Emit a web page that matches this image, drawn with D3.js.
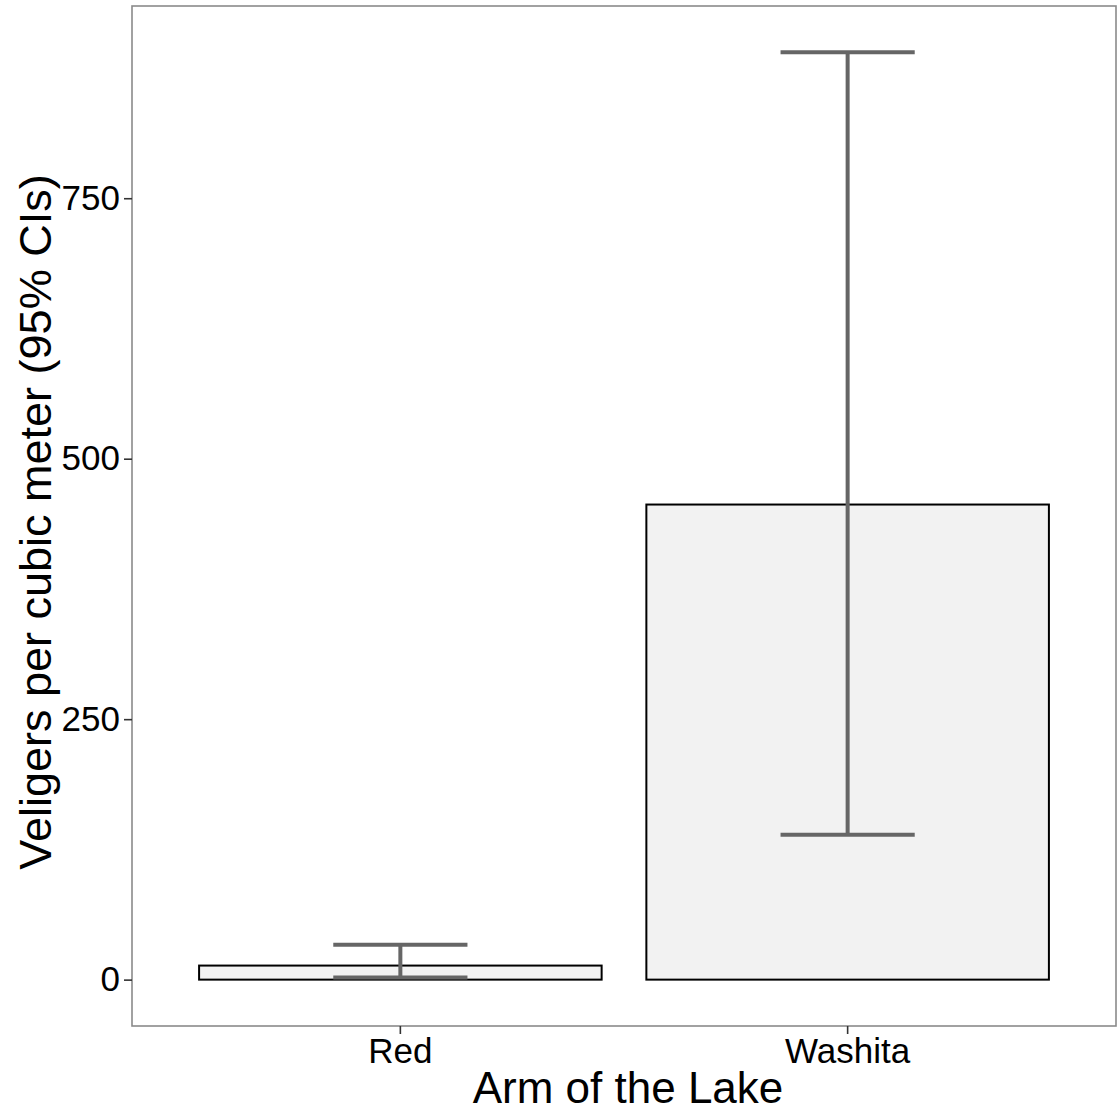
<!DOCTYPE html>
<html>
<head>
<meta charset="utf-8">
<script src="https://cdn.jsdelivr.net/npm/d3@7"></script>
<style>
  html, body { margin: 0; padding: 0; background: #ffffff; }
  svg text { font-family: "Liberation Sans", Arial, Helvetica, sans-serif; }
</style>
</head>
<body>
<svg id="chart" width="1120" height="1114"></svg>
<script>
// Mean veliger density per arm, with 95% confidence limits
const arms = ["Red", "Washita"];
const means = [13.5, 456];
const lowerCI = [2, 139];
const upperCI = [33.5, 890];
const yTicks = [0, 250, 500, 750];

const svg = d3.select("#chart");
const panel = { left: 132, right: 1116, top: 6, bottom: 1026 };

const data = arms.map((a, i) => ({ arm: a, mean: means[i], lo: lowerCI[i], hi: upperCI[i] }));

// continuous range padded by 5% on each side
const yMin = Math.min(0, d3.min(lowerCI));
const yMax = d3.max(upperCI);
const pad = (yMax - yMin) * 0.05;
const y = d3.scaleLinear().domain([yMin - pad, yMax + pad]).range([panel.bottom, panel.top]);

const x = d3.scaleBand().domain(arms).range([panel.left, panel.right])
  .paddingInner(0.1).paddingOuter(0.15);

// panel background
svg.append("rect")
  .attr("x", panel.left).attr("y", panel.top)
  .attr("width", panel.right - panel.left).attr("height", panel.bottom - panel.top)
  .attr("fill", "#ffffff");

// bars
svg.append("g").selectAll("rect").data(data).join("rect")
  .attr("x", d => x(d.arm))
  .attr("y", d => y(d.mean))
  .attr("width", x.bandwidth())
  .attr("height", d => y(0) - y(d.mean))
  .attr("fill", "#f2f2f2")
  .attr("stroke", "#000000")
  .attr("stroke-width", 2);

// error bars
const capHalf = x.step() * 0.15;
const eb = svg.append("g").attr("stroke", "#666666").attr("stroke-width", 4).attr("fill", "none");
data.forEach(d => {
  const cx = x(d.arm) + x.bandwidth() / 2;
  eb.append("line").attr("x1", cx).attr("x2", cx).attr("y1", y(d.hi)).attr("y2", y(d.lo));
  eb.append("line").attr("x1", cx - capHalf).attr("x2", cx + capHalf).attr("y1", y(d.hi)).attr("y2", y(d.hi));
  eb.append("line").attr("x1", cx - capHalf).attr("x2", cx + capHalf).attr("y1", y(d.lo)).attr("y2", y(d.lo));
});

// panel border
svg.append("rect")
  .attr("x", panel.left).attr("y", panel.top)
  .attr("width", panel.right - panel.left).attr("height", panel.bottom - panel.top)
  .attr("fill", "none").attr("stroke", "#8a8a8a").attr("stroke-width", 1.6);

// y axis
const yAxis = svg.append("g")
  .attr("transform", `translate(${panel.left},0)`)
  .call(d3.axisLeft(y).tickValues(yTicks).tickSize(8).tickPadding(4).tickFormat(d3.format("d")));
yAxis.select(".domain").remove();
yAxis.selectAll(".tick line").attr("stroke", "#333333").attr("stroke-width", 1.6);
yAxis.selectAll(".tick text").attr("fill", "#000000").attr("font-size", 35)
  .attr("font-family", "'Liberation Sans', Arial, sans-serif");

// x axis
const xAxis = svg.append("g")
  .attr("transform", `translate(0,${panel.bottom})`)
  .call(d3.axisBottom(x).tickSize(8).tickPadding(4));
xAxis.select(".domain").remove();
xAxis.selectAll(".tick line").attr("stroke", "#333333").attr("stroke-width", 1.6);
xAxis.selectAll(".tick text").attr("fill", "#000000").attr("font-size", 35)
  .attr("font-family", "'Liberation Sans', Arial, sans-serif");

// axis titles
svg.append("text")
  .attr("x", (panel.left + panel.right) / 2 + 4)
  .attr("y", 1103)
  .attr("text-anchor", "middle")
  .attr("font-size", 44)
  .attr("fill", "#000000")
  .text("Arm of the Lake");

svg.append("text")
  .attr("transform", `translate(51,${(panel.top + panel.bottom) / 2 + 6}) rotate(-90)`)
  .attr("text-anchor", "middle")
  .attr("font-size", 45)
  .attr("fill", "#000000")
  .text("Veligers per cubic meter (95% CIs)");
</script>
</body>
</html>
